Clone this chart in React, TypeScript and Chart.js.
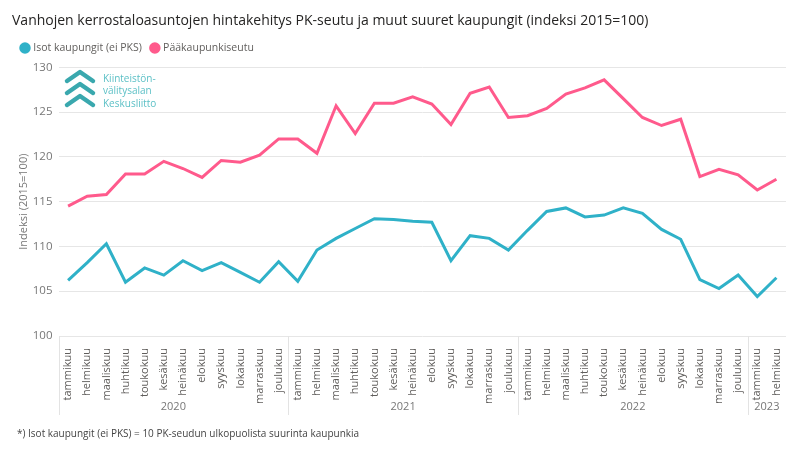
import React, { useEffect, useRef } from "react";
import { Chart, registerables } from "chart.js";
Chart.register(...registerables);

const monthNames = ["tammikuu", "helmikuu", "maaliskuu", "huhtikuu", "toukokuu", "kesäkuu", "heinäkuu", "elokuu", "syyskuu", "lokakuu", "marraskuu", "joulukuu"];
const yearLabels = ["2020", "2021", "2022", "2023"];
const monthsPerYear = [12, 12, 12, 2];

const isotKaupungit = [106.2, 108.2, 110.3, 106.0, 107.6, 106.8, 108.4, 107.3, 108.2, 107.1, 106.0, 108.3,
  106.1, 109.6, 110.9, 112.0, 113.1, 113.0, 112.8, 112.7, 108.4, 111.2, 110.9, 109.6,
  111.8, 113.9, 114.3, 113.3, 113.5, 114.3, 113.7, 111.9, 110.8, 106.3, 105.3, 106.8,
  104.4, 106.5];
const paakaupunkiseutu = [114.5, 115.6, 115.8, 118.1, 118.1, 119.5, 118.7, 117.7, 119.6, 119.4, 120.2, 122.0,
  122.0, 120.4, 125.7, 122.6, 126.0, 126.0, 126.7, 125.9, 123.6, 127.1, 127.8, 124.4,
  124.6, 125.4, 127.0, 127.7, 128.6, 126.5, 124.4, 123.5, 124.2, 117.8, 118.6, 118.0,
  116.3, 117.5];

const seriesNames = ["Isot kaupungit (ei PKS)", "Pääkaupunkiseutu"];
const yMin = 100;
const yMax = 130;
const yStep = 5;
const titleText = "Vanhojen kerrostaloasuntojen hintakehitys PK-seutu ja muut suuret kaupungit (indeksi 2015=100)";
const yAxisTitle = "Indeksi (2015=100)";
const footnote = "*) Isot kaupungit (ei PKS) = 10 PK-seudun ulkopuolista suurinta kaupunkia";
const logoLines = ["Kiinteistön-", "välitysalan", "Keskusliitto"];

const FONT = "'Segoe UI', 'Open Sans', 'Noto Sans', sans-serif";

const labels: string[] = [];
monthsPerYear.forEach((n) => {
  for (let i = 0; i < n; i++) labels.push(monthNames[i]);
});

const legendGapPlugin = {
  id: "legendGap",
  beforeLayout(chart: any) {
    const lg = chart.legend;
    if (lg && !lg.__gapPatched) {
      const origFit = lg.fit;
      lg.fit = function (this: any) {
        origFit.call(this);
        this.height += 4;
      };
      lg.__gapPatched = true;
    }
  },
};

const decorPlugin = {
  id: "decor",
  afterDraw(chart: any) {
    const ctx = chart.ctx;
    const xs = chart.scales.x;
    const area = chart.chartArea;
    ctx.save();
    const bottom = 415;
    ctx.strokeStyle = "#e3e3e3";
    ctx.lineWidth = 1;
    let idx = 0;
    const boundaries: number[] = [xs.left];
    monthsPerYear.forEach((n, k) => {
      idx += n;
      const endPx = idx < labels.length ? (xs.getPixelForValue(idx - 1) + xs.getPixelForValue(idx)) / 2 : xs.right;
      boundaries.push(endPx);
      const startPx = boundaries[k];
      ctx.fillStyle = "#777777";
      ctx.font = `11px ${FONT}`;
      ctx.textAlign = "center";
      ctx.textBaseline = "middle";
      ctx.fillText(yearLabels[k], (startPx + endPx) / 2, 407);
    });
    boundaries.slice(0, boundaries.length - 1).forEach((b) => {
      const x = Math.round(b) + 0.5;
      ctx.beginPath();
      ctx.moveTo(x, area.bottom);
      ctx.lineTo(x, bottom);
      ctx.stroke();
    });
    ctx.fillStyle = "#444444";
    ctx.font = `10px ${FONT}`;
    ctx.textAlign = "left";
    ctx.textBaseline = "middle";
    ctx.fillText(footnote, 17, 434);
    ctx.strokeStyle = "#3aa8ae";
    ctx.lineWidth = 4.5;
    ctx.lineCap = "round";
    ctx.lineJoin = "round";
    [72, 84, 96].forEach((py) => {
      ctx.beginPath();
      ctx.moveTo(67, py + 9);
      ctx.lineTo(80, py);
      ctx.lineTo(93, py + 9);
      ctx.stroke();
    });
    ctx.fillStyle = "#5cc0c6";
    ctx.font = `10px ${FONT}`;
    ctx.textAlign = "left";
    logoLines.forEach((t, i) => ctx.fillText(t, 103, 79 + i * 12.5));
    ctx.restore();
  },
};

export default function App() {
  const ref = useRef<HTMLCanvasElement | null>(null);
  useEffect(() => {
    if (!ref.current) return;
    const chart = new Chart(ref.current, {
      type: "line",
      data: {
        labels,
        datasets: [
          {
            label: seriesNames[0],
            data: isotKaupungit,
            borderColor: "#2fb1c8",
            backgroundColor: "#2fb1c8",
            borderWidth: 3,
            pointRadius: 0,
            tension: 0,
          },
          {
            label: seriesNames[1],
            data: paakaupunkiseutu,
            borderColor: "#ff5a8c",
            backgroundColor: "#ff5a8c",
            borderWidth: 3,
            pointRadius: 0,
            tension: 0,
          },
        ],
      },
      options: {
        animation: false,
        responsive: true,
        maintainAspectRatio: false,
        layout: { padding: { left: 12, right: 14, top: 0, bottom: 0 } },
        plugins: {
          tooltip: { enabled: false },
          title: {
            display: true,
            text: titleText,
            align: "start",
            color: "#252423",
            font: { family: FONT, size: 14, weight: "normal" },
            padding: { top: 13, bottom: 3 },
          },
          legend: {
            display: true,
            align: "start",
            labels: {
              usePointStyle: true,
              pointStyle: "circle",
              boxWidth: 6,
              boxHeight: 6,
              color: "#605e5c",
              font: { family: FONT, size: 10.5 },
              padding: 10,
            },
          },
        },
        scales: {
          x: {
            offset: true,
            grid: { display: false },
            border: { display: false },
            ticks: {
              autoSkip: false,
              maxRotation: 90,
              minRotation: 90,
              color: "#605e5c",
              font: { family: FONT, size: 11 },
              padding: 4,
            },
            afterFit: (s: any) => {
              s.height = 127;
            },
          },
          y: {
            min: yMin,
            max: yMax,
            grid: { color: "#e6e6e6", drawTicks: false },
            border: { display: false },
            ticks: {
              stepSize: yStep,
              color: "#777777",
              font: { family: FONT, size: 11.5 },
              padding: 6,
            },
            title: {
              display: true,
              text: yAxisTitle,
              color: "#777777",
              font: { family: FONT, size: 11 },
              padding: { top: 5, bottom: 0 },
            },
            afterFit: (s: any) => {
              s.width = 46.5;
            },
          },
        },
      },
      plugins: [legendGapPlugin, decorPlugin],
    });
    return () => chart.destroy();
  }, []);
  return (
    <div style={{ position: "fixed", left: 0, top: 0, width: 800, height: 463, background: "#fff" }}>
      <canvas ref={ref} />
    </div>
  );
}
